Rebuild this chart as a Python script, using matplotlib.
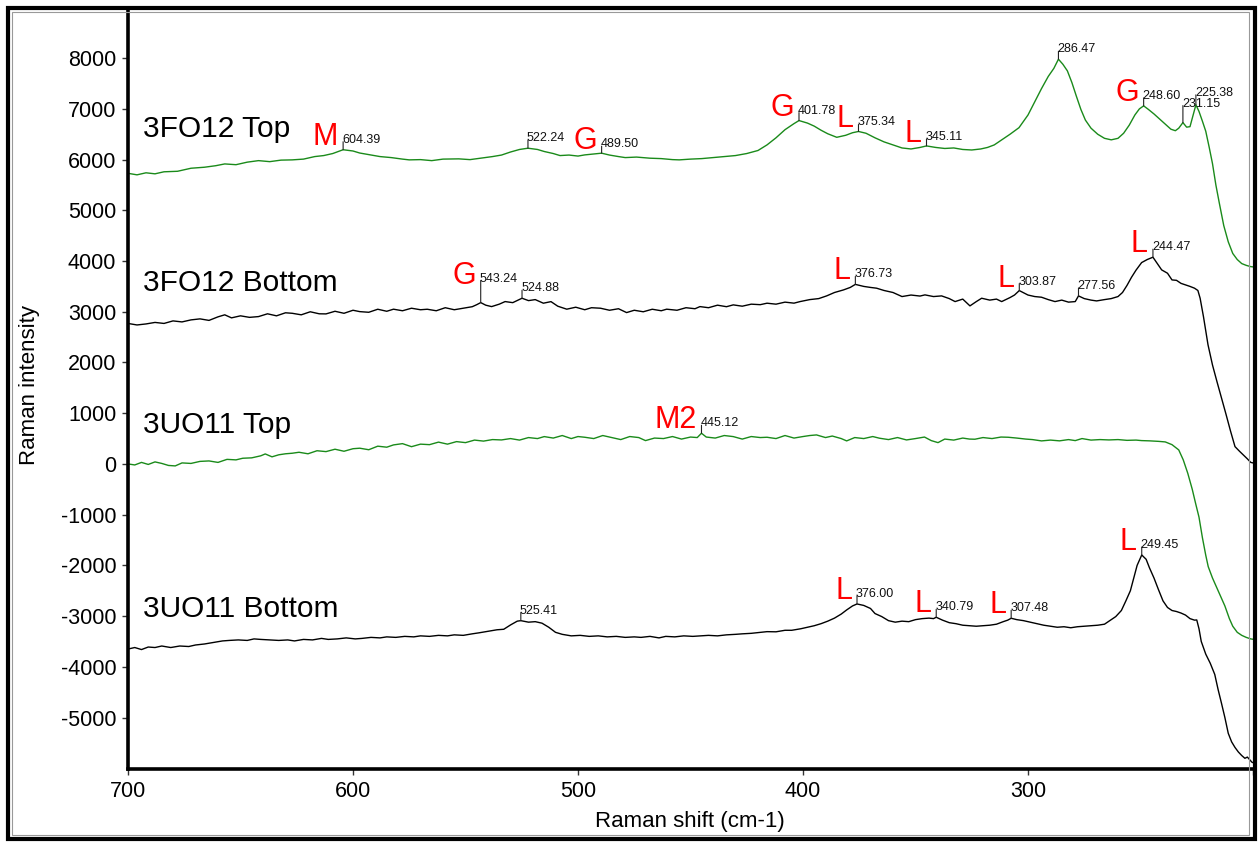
import numpy as np
import matplotlib
matplotlib.use("Agg")
import matplotlib.pyplot as plt
from matplotlib.patches import Rectangle

plt.rcParams['font.family'] = ['Liberation Sans', 'DejaVu Sans']
plt.rcParams['axes.unicode_minus'] = False

# ---------------- data ----------------
s1_x = [700, 696, 692, 688, 684, 678, 672, 666, 661, 657, 652, 647, 642, 637, 632, 627, 622, 617, 613, 609,
        604.39, 600, 597, 592, 588, 583, 578, 575, 570, 565, 560, 553, 548, 543, 538, 534, 530, 526, 522.24,
        518, 515, 511, 508, 504, 500, 497, 493, 489.50, 486, 482, 479, 474, 468, 463, 458, 455, 450, 445, 440,
        435, 430, 425, 420, 416, 412, 408, 404, 401.78, 398, 395, 392, 389, 385, 381, 378, 375.34, 372, 368,
        364, 360, 356, 352, 348, 345.11, 341, 337, 333, 329, 325, 321, 318, 315, 312, 308, 304, 300, 297, 294,
        291, 288.5, 286.47, 284.5, 282.5, 280.5, 278.5, 276.5, 274.5, 272, 269, 266, 263, 260, 257.5, 255,
        252.5, 250.5, 248.60, 246.5, 244, 241.5, 239, 236.5, 234.5, 233, 231.15, 229.5, 228, 226.5, 225.38,
        224, 222.5, 221, 219.5, 218, 216.5, 215, 213, 211, 209, 207, 205, 203, 201, 200]
s1_y = [5730, 5700, 5740, 5720, 5760, 5770, 5830, 5850, 5880, 5915, 5900, 5950, 5980, 5960, 5990, 5995, 6010,
        6060, 6080, 6120, 6195, 6170, 6130, 6090, 6060, 6040, 6010, 5995, 6000, 5980, 6010, 6015, 6000, 6030,
        6060, 6090, 6150, 6200, 6225, 6200, 6160, 6120, 6080, 6090, 6070, 6093, 6110, 6127, 6090, 6060, 6040,
        6050, 6028, 6020, 6000, 5995, 6010, 6020, 6040, 6060, 6080, 6120, 6180, 6290, 6430, 6590, 6710, 6770,
        6720, 6660, 6580, 6510, 6440, 6480, 6530, 6555, 6520, 6430, 6350, 6290, 6230, 6210, 6240, 6270, 6240,
        6220, 6230, 6200, 6190, 6210, 6240, 6290, 6380, 6500, 6630, 6880, 7140, 7400, 7640, 7800, 7980, 7880,
        7750, 7520, 7250, 6990, 6780, 6620, 6500, 6420, 6390, 6420, 6520, 6680, 6880, 7000, 7060, 6990, 6900,
        6800, 6700, 6600, 6570, 6620, 6730, 6640, 6650, 6900, 7080, 6950, 6760, 6560, 6250, 5920, 5500, 5150,
        4700, 4380, 4150, 4030, 3950, 3915, 3890, 3885]

s2_x = [700, 696, 692, 688, 684, 680, 676, 672, 668, 664, 660, 657, 654, 650, 646, 642, 638, 634, 630, 627,
        623, 619, 615, 612, 608, 604, 600, 597, 593, 589, 585, 582, 578, 574, 570, 567, 563, 559, 555, 551,
        547, 545, 543.24, 541, 538.4, 535, 532.4, 529, 524.88, 522, 519, 515.4, 512, 509, 505, 501, 497, 494,
        490, 486, 482, 478.4, 475, 471, 467, 463, 460.6, 456, 452, 448, 445.8, 442, 438, 434, 431, 427, 423,
        419, 416, 412, 408, 404, 401.3, 397, 393, 389.5, 386, 382, 379, 376.73, 373, 370, 367.3, 364, 360, 356,
        352, 348, 345.8, 342, 338.4, 335, 332.4, 329, 325.8, 323, 320.6, 317, 314, 311.7, 308, 306, 303.87,
        300, 297, 294, 291, 288, 285, 282, 279, 277.56, 275, 272, 269.5, 266, 263, 260, 258, 256, 254, 252,
        249.5, 247, 244.47, 242.5, 240.6, 238, 236, 234, 232, 230, 228, 226, 224.5, 223.5, 222, 220, 218, 216,
        214, 212, 210, 208, 206, 204.3, 202.5, 201, 200]
s2_y = [2770, 2740, 2760, 2790, 2770, 2820, 2800, 2840, 2860, 2830, 2900, 2940, 2880, 2920, 2890, 2905, 2960,
        2920, 2980, 2970, 2940, 3000, 2960, 2958, 3010, 2970, 3030, 3003, 2990, 3050, 3010, 3051, 3020, 3070,
        3040, 3050, 3020, 3080, 3040, 3070, 3100, 3140, 3181, 3130, 3102, 3150, 3201, 3180, 3267, 3220, 3240,
        3169, 3200, 3110, 3051, 3090, 3040, 3080, 3070, 3030, 3060, 2984, 3030, 3000, 3050, 3020, 3051, 3030,
        3080, 3060, 3102, 3080, 3130, 3100, 3136, 3110, 3150, 3140, 3169, 3150, 3190, 3170, 3201, 3240, 3260,
        3313, 3380, 3431, 3480, 3540, 3500, 3480, 3465, 3420, 3380, 3300, 3330, 3310, 3333, 3300, 3313, 3260,
        3201, 3250, 3116, 3200, 3267, 3230, 3250, 3201, 3280, 3330, 3418, 3330, 3300, 3287, 3240, 3201, 3230,
        3190, 3201, 3313, 3260, 3230, 3214, 3240, 3260, 3300, 3380, 3520, 3680, 3820, 3970, 4030, 4076, 3950,
        3826, 3760, 3628, 3620, 3560, 3530, 3500, 3465, 3420, 3267, 2900, 2350, 1950, 1620, 1300, 980, 650,
        341, 250, 177, 100, 30, 20]

s3_x = [700, 697, 694, 691, 688, 685, 682, 679, 676, 672, 668, 664, 660, 656, 652, 649, 645, 641, 639, 636,
        633, 630, 627, 624, 620, 616, 612, 608, 604, 600, 597, 593, 589, 585, 582, 578, 574, 570, 566, 562,
        558, 554, 550, 546, 542, 538, 534, 530, 526, 522, 518, 515, 511, 507, 503, 500, 497, 493, 489, 485,
        481, 477, 473, 470, 466, 462, 458, 454, 450, 447, 445.12, 443, 439, 435, 431, 427, 423, 419, 416, 412,
        408, 404, 400, 397, 394, 390, 387, 383, 380.6, 377, 373, 369, 366, 362, 358, 354, 350, 346, 343, 340,
        337, 333, 329, 326, 323.6, 320, 316, 312, 308.8, 305, 301, 298, 294, 290, 286, 282, 279, 276, 272,
        268, 264, 260, 256, 252, 249.5, 246, 242, 239, 236, 233, 231, 229, 227, 225.5, 224, 222.5, 221, 219.9,
        218, 216.5, 214.5, 212.5, 210.5, 209, 207, 205, 203, 201, 200]
s3_y = [0, -20, 30, -10, 40, 10, -30, -39, 20, 10, 50, 59, 30, 90, 80, 112, 120, 160, 197, 140, 180, 200, 211,
        230, 200, 260, 243, 290, 250, 300, 310, 280, 350, 330, 375, 400, 340, 390, 380, 430, 390, 440, 420,
        470, 450, 480, 473, 500, 470, 520, 500, 539, 510, 560, 500, 540, 526, 500, 560, 520, 480, 540, 520, 460,
        510, 500, 540, 490, 530, 520, 605, 530, 510, 560, 539, 490, 540, 520, 526, 500, 560, 510, 540, 560, 572,
        520, 550, 500, 454, 520, 500, 540, 507, 480, 520, 473, 500, 530, 460, 420, 490, 470, 510, 490, 487, 520,
        500, 530, 526, 510, 490, 480, 454, 470, 455, 480, 460, 500, 470, 480, 473, 480, 465, 470, 460, 455, 445,
        434, 380, 276, 80, -183, -500, -780, -1050, -1450, -1800, -2025, -2250, -2400, -2600, -2800, -3050,
        -3200, -3320, -3380, -3420, -3450, -3457]

s4_x = [700, 697, 694, 691, 688, 685, 681, 677, 673, 670, 666, 662, 658, 655, 651, 647, 644, 641, 637, 633,
        629, 626, 622, 618, 614, 611, 607, 603, 599, 596, 592, 588, 585, 581, 577, 573, 570, 566, 562, 558,
        555, 551, 547, 544, 540, 536, 533, 530, 527, 525.41, 522, 519, 516, 513, 510, 507, 503, 499, 495, 491,
        487, 483, 479, 475, 472, 468, 464, 461, 457, 453, 449, 446, 442, 438, 434, 430, 427, 423, 419, 416,
        412, 408, 405, 401, 398, 395, 392, 389, 386, 383, 380.6, 378, 376.00, 373, 370, 368, 365, 362, 359,
        356, 353, 350, 347, 344, 342, 340.79, 338, 335, 332, 329, 326, 323, 320, 317, 314, 311, 309, 307.48,
        305, 302, 299, 296, 293, 290, 287, 284, 281, 278, 275, 272, 269, 266, 264, 261, 258.5, 256.5, 254.5,
        253, 251.5, 249.45, 247.5, 246, 244, 242, 240, 238, 236, 234, 232, 230, 228, 226, 225, 224, 223, 221,
        219, 217, 215.5, 214, 212.5, 211, 209.5, 208, 206.5, 205, 203.6, 202.5, 201.5, 200.5, 200]
s4_y = [-3650, -3620, -3660, -3610, -3620, -3590, -3620, -3590, -3600, -3570, -3550, -3520, -3490, -3480,
        -3470, -3480, -3450, -3460, -3470, -3480, -3470, -3490, -3460, -3470, -3440, -3460, -3450, -3430,
        -3450, -3440, -3420, -3430, -3410, -3420, -3400, -3410, -3390, -3400, -3380, -3390, -3370, -3380,
        -3350, -3330, -3300, -3270, -3260, -3175, -3100, -3090, -3120, -3110, -3140, -3220, -3320, -3360,
        -3390, -3380, -3400, -3390, -3410, -3400, -3420, -3410, -3420, -3400, -3430, -3400, -3410, -3390,
        -3400, -3392, -3380, -3390, -3370, -3360, -3350, -3340, -3320, -3307, -3310, -3280, -3280, -3250,
        -3220, -3190, -3150, -3100, -3040, -2960, -2879, -2800, -2761, -2790, -2850, -2950, -3010, -3090,
        -3120, -3100, -3110, -3070, -3050, -3040, -3050, -3023, -3080, -3130, -3150, -3180, -3190, -3200,
        -3190, -3180, -3160, -3110, -3080, -3043, -3070, -3090, -3120, -3150, -3180, -3200, -3220, -3210,
        -3230, -3210, -3200, -3190, -3180, -3160, -3100, -3010, -2890, -2700, -2500, -2250, -2000, -1795,
        -1880, -2050, -2250, -2480, -2700, -2830, -2890, -2910, -2940, -2980, -3050, -3080, -3076, -3250,
        -3500, -3750, -3930, -4150, -4450, -4720, -5000, -5311, -5480, -5590, -5680, -5750, -5804, -5780,
        -5830, -5880, -5890]

series_names = ["3FO12 Top", "3FO12 Bottom", "3UO11 Top", "3UO11 Bottom"]
series_colors = ["#1a8a1a", "#000000", "#1a8a1a", "#000000"]

# peak annotations: (series index, peak position, assignment letter)
peak_series = [0, 0, 0, 0, 0, 0, 0, 0, 0, 0,
               1, 1, 1, 1, 1, 1,
               2,
               3, 3, 3, 3, 3]
peak_pos = [604.39, 522.24, 489.50, 401.78, 375.34, 345.11, 286.47, 248.60, 231.15, 225.38,
            543.24, 524.88, 376.73, 303.87, 277.56, 244.47,
            445.12,
            525.41, 376.00, 340.79, 307.48, 249.45]
peak_tag = ["M", "", "G", "G", "L", "L", "", "G", "", "",
            "G", "", "L", "L", "", "L",
            "M2",
            "", "L", "L", "L", "L"]
# tick length of each peak marker in pixels
peak_tick_px = [8, 8, 7, 8, 7, 7, 8, 8, 17, 10,
                22, 8, 8, 7, 8, 8,
                8,
                8, 8, 8, 8, 8]

# sample name label positions (x, baseline y in data units)
name_x = [693.3, 693.3, 693.3, 693.3]
name_y = [6450, 3400, 605, -3010]

# ---------------- figure ----------------
W, H = 1259, 843
fig = plt.figure(figsize=(W / 100, H / 100), dpi=100)
fig.patch.set_facecolor("white")
ax = fig.add_axes([128 / W, 1 - 769 / H, (1253 - 128) / W, (769 - 10) / H])

xs = [s1_x, s2_x, s3_x, s4_x]
ys = [s1_y, s2_y, s3_y, s4_y]
for x, y, c in zip(xs, ys, series_colors):
    ax.plot(x, y, color=c, lw=1.0, solid_joinstyle="round")

ax.set_xlim(700, 200)
ax.set_ylim(-6015, 8950)

ax.set_xticks([700, 600, 500, 400, 300, 200])
ax.set_xticklabels(["700", "600", "500", "400", "300", ""])
ax.set_yticks(np.arange(-5000, 8001, 1000))
ax.tick_params(axis="both", labelsize=15.5, length=4, width=1, color="#333333", pad=4.5)

for s in ["top", "right"]:
    ax.spines[s].set_visible(False)
for s in ["left", "bottom"]:
    ax.spines[s].set_linewidth(2.6)
    ax.spines[s].set_color("black")

px = 0.72  # points per pixel
for si, pos, tag, tl in zip(peak_series, peak_pos, peak_tag, peak_tick_px):
    xarr = np.array(xs[si])[::-1]
    yarr = np.array(ys[si])[::-1]
    yp = float(np.interp(pos, xarr, yarr))
    ax.annotate("", xy=(pos, yp), xytext=(0, tl * px), textcoords="offset points",
                arrowprops=dict(arrowstyle="-", lw=0.8, color="#222222", shrinkA=0, shrinkB=0))
    ax.annotate(f"{pos:.2f}", xy=(pos, yp), xytext=(-1 * px, (tl - 1) * px),
                textcoords="offset points", ha="left", va="baseline", fontsize=9, color="#111111")
    if tag:
        ax.annotate(tag, xy=(pos, yp), xytext=(-5 * px, (tl - 3) * px),
                    textcoords="offset points", ha="right", va="baseline",
                    fontsize=22, color="#ff0000")

for nm, nx, ny in zip(series_names, name_x, name_y):
    ax.text(nx, ny, nm, fontsize=21.5, ha="left", va="baseline", color="black")

fig.text(690 / W, 1 - 822 / H, "Raman shift (cm-1)", ha="center", va="center", fontsize=16)
fig.text(30 / W, 1 - 385 / H, "Raman intensity", ha="center", va="center", fontsize=16, rotation=90)

# outer frame
fig.patches.append(Rectangle((8 / W, 4 / H), (W - 12) / W, (H - 12) / H, transform=fig.transFigure,
                             fill=False, lw=3.0, edgecolor="black", zorder=10))
fig.patches.append(Rectangle((12 / W, 8 / H), (W - 22) / W, (H - 20) / H, transform=fig.transFigure,
                             fill=False, lw=0.8, edgecolor="#999999", zorder=10))

fig.savefig("out.png", dpi=100)
